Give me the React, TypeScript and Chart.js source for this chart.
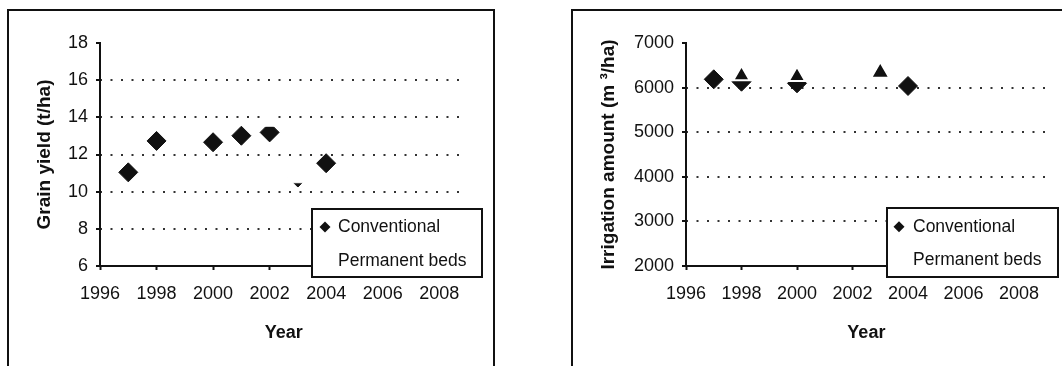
import React, { useEffect, useRef } from "react";
import { Chart, registerables } from "chart.js";

Chart.register(...registerables);

const FONT = '"Liberation Sans", Arial, Helvetica, sans-serif';
const INK = "#111";

// ---- data ----
const seriesNames = ["Conventional", "Permanent beds"];

const xTickValues = [1996, 1998, 2000, 2002, 2004, 2006, 2008];
const xTickLabels = ["1996", "1998", "2000", "2002", "2004", "2006", "2008"];

const yieldTickValues = [6, 8, 10, 12, 14, 16, 18];
const yieldTickLabels = ["6", "8", "10", "12", "14", "16", "18"];
const yieldConvYears = [1997, 1998, 2000, 2001, 2002, 2003, 2004];
const yieldConvValues = [11.04, 12.73, 12.66, 13.01, 13.19, 10.76, 11.53];
const yieldBedsYears = [2002, 2003];
const yieldBedsValues = [13.87, 10.91];

const irrTickValues = [2000, 3000, 4000, 5000, 6000, 7000];
const irrTickLabels = ["2000", "3000", "4000", "5000", "6000", "7000"];
const irrConvYears = [1997, 1998, 2000, 2004];
const irrConvValues = [6186, 6132, 6096, 6036];
const irrBedsYears = [1998, 2000, 2003];
const irrBedsValues = [6271, 6256, 6340];

type LegendCfg = {
  dx: number;
  dy: number;
  w: number;
  h: number;
  rows: number[];
  markerX: number;
  textX: number;
};

function boxLegend(cfg: LegendCfg) {
  return {
    id: "boxLegend",
    afterDraw(chart: any) {
      const { ctx, chartArea } = chart;
      const right = chartArea.right + cfg.dx;
      const bottom = chartArea.bottom + cfg.dy;
      const left = right - cfg.w;
      const top = bottom - cfg.h;
      ctx.save();
      ctx.fillStyle = "#fff";
      ctx.fillRect(left, top, cfg.w, cfg.h);
      ctx.lineWidth = 2;
      ctx.strokeStyle = INK;
      ctx.strokeRect(left, top, cfg.w, cfg.h);
      ctx.font = `17.5px ${FONT}`;
      ctx.textBaseline = "middle";
      ctx.textAlign = "left";
      chart.data.datasets.forEach((ds: any, i: number) => {
        const y = top + cfg.rows[i];
        if (ds.legendMarker !== false) {
          const mx = left + cfg.markerX;
          const r = 5.5;
          ctx.fillStyle = ds.backgroundColor;
          ctx.beginPath();
          ctx.moveTo(mx, y - r);
          ctx.lineTo(mx + r, y);
          ctx.lineTo(mx, y + r);
          ctx.lineTo(mx - r, y);
          ctx.closePath();
          ctx.fill();
        }
        ctx.fillStyle = INK;
        ctx.fillText(ds.label, left + cfg.textX, y);
      });
      ctx.restore();
    },
  };
}

type PanelProps = {
  width: number;
  padRight: number;
  yWidth: number;
  yTitle: string;
  yTitlePad: number;
  yMin: number;
  yMax: number;
  yTickValues: number[];
  yTickLabels: string[];
  datasets: any[];
  legend: LegendCfg;
};

function buildConfig(p: PanelProps): any {
  return {
    type: "scatter",
    data: { datasets: p.datasets },
    options: {
      animation: false,
      responsive: false,
      events: [],
      layout: { padding: { left: 0, top: 43, right: p.padRight, bottom: 0 } },
      plugins: { legend: { display: false }, tooltip: { enabled: false } },
      scales: {
        x: {
          type: "linear",
          min: 1996,
          max: 2009,
          afterBuildTicks: (s: any) => {
            s.ticks = xTickValues.map((v) => ({ value: v }));
          },
          afterFit: (s: any) => {
            s.height = 100;
          },
          grid: {
            drawOnChartArea: false,
            drawTicks: true,
            tickLength: 4,
            tickColor: INK,
            tickWidth: 2,
          },
          border: { display: true, color: INK, width: 2 },
          ticks: {
            color: INK,
            font: { family: FONT, size: 18 },
            padding: 13,
            maxRotation: 0,
            autoSkip: false,
            callback: (_v: any, i: number) => xTickLabels[i],
          },
          title: {
            display: true,
            text: "Year",
            color: INK,
            font: { family: FONT, size: 18, weight: "bold" },
            padding: { top: 0, bottom: 22 },
          },
        },
        y: {
          type: "linear",
          min: p.yMin,
          max: p.yMax,
          afterBuildTicks: (s: any) => {
            s.ticks = p.yTickValues.map((v) => ({ value: v }));
          },
          afterFit: (s: any) => {
            s.width = p.yWidth;
          },
          grid: {
            color: (c: any) =>
              c.tick && (c.tick.value === p.yMin || c.tick.value === p.yMax)
                ? "rgba(0,0,0,0)"
                : "#333",
            lineWidth: 2,
            drawTicks: true,
            tickLength: 4,
            tickColor: INK,
            tickWidth: 2,
          },
          border: { display: true, color: INK, width: 2, dash: [2, 8.5], dashOffset: 1 },
          ticks: {
            color: INK,
            font: { family: FONT, size: 18 },
            padding: 8,
            autoSkip: false,
            callback: (_v: any, i: number) => p.yTickLabels[i],
          },
          title: {
            display: true,
            text: p.yTitle,
            color: INK,
            font: { family: FONT, size: 19, weight: "bold" },
            padding: { top: p.yTitlePad, bottom: 0 },
          },
        },
      },
    },
    plugins: [boxLegend(p.legend)],
  };
}

function Panel(props: PanelProps & { left: number }) {
  const ref = useRef<HTMLCanvasElement | null>(null);
  useEffect(() => {
    if (!ref.current) return;
    const chart = new Chart(ref.current, buildConfig(props));
    return () => chart.destroy();
  }, []);
  return (
    <canvas
      ref={ref}
      width={props.width}
      height={366}
      style={{
        position: "absolute",
        left: props.left,
        top: 0,
        width: props.width,
        height: 366,
        display: "block",
      }}
    />
  );
}

const pts = (xs: number[], ys: number[]) => xs.map((x, i) => ({ x, y: ys[i] }));

export default function App() {
  const yieldSets = [
    {
      label: seriesNames[0],
      data: pts(yieldConvYears, yieldConvValues),
      pointStyle: "rectRot",
      pointRadius: 9.5,
      pointHoverRadius: 9.5,
      backgroundColor: INK,
      borderColor: INK,
      borderWidth: 1,
      order: 1,
    },
    {
      label: seriesNames[1],
      data: pts(yieldBedsYears, yieldBedsValues),
      pointStyle: "triangle",
      pointRadius: [13, 16],
      pointHoverRadius: [13, 16],
      backgroundColor: "#fff",
      borderColor: "#fff",
      borderWidth: 1,
      legendMarker: false,
      order: 0,
    },
  ];
  const irrSets = [
    {
      label: seriesNames[0],
      data: pts(irrConvYears, irrConvValues),
      pointStyle: "rectRot",
      pointRadius: 9.5,
      pointHoverRadius: 9.5,
      backgroundColor: INK,
      borderColor: INK,
      borderWidth: 1,
      order: 1,
    },
    {
      label: seriesNames[1],
      data: pts(irrBedsYears, irrBedsValues),
      pointStyle: "triangle",
      pointRadius: [9.5, 9.5, 10.5],
      pointHoverRadius: [9.5, 9.5, 10.5],
      backgroundColor: INK,
      borderColor: "#fff",
      borderWidth: 2,
      legendMarker: false,
      order: 0,
    },
  ];

  return (
    <div
      style={{
        position: "fixed",
        left: 0,
        top: 0,
        width: 1062,
        height: 366,
        overflow: "hidden",
        background: "#fff",
      }}
    >
      <Panel
        left={0}
        width={500}
        padRight={32.5}
        yWidth={100}
        yTitle="Grain yield (t/ha)"
        yTitlePad={33}
        yMin={6}
        yMax={18}
        yTickValues={yieldTickValues}
        yTickLabels={yieldTickLabels}
        datasets={yieldSets}
        legend={{ dx: 14.5, dy: 11, w: 170, h: 68, rows: [18, 52], markerX: 13, textX: 26 }}
      />
      <Panel
        left={540}
        width={522}
        padRight={15.25}
        yWidth={146}
        yTitle="Irrigation amount (m ³/ha)"
        yTitlePad={57}
        yMin={2000}
        yMax={7000}
        yTickValues={irrTickValues}
        yTickLabels={irrTickLabels}
        datasets={irrSets}
        legend={{ dx: 11.25, dy: 11, w: 171, h: 69, rows: [18.7, 52], markerX: 12, textX: 26 }}
      />
      <div
        style={{
          position: "absolute",
          left: 7,
          top: 9,
          width: 484,
          height: 400,
          border: `2px solid ${INK}`,
          borderBottom: "none",
          pointerEvents: "none",
        }}
      />
      <div
        style={{
          position: "absolute",
          left: 571,
          top: 9,
          width: 600,
          height: 400,
          border: `2px solid ${INK}`,
          borderBottom: "none",
          pointerEvents: "none",
        }}
      />
    </div>
  );
}
